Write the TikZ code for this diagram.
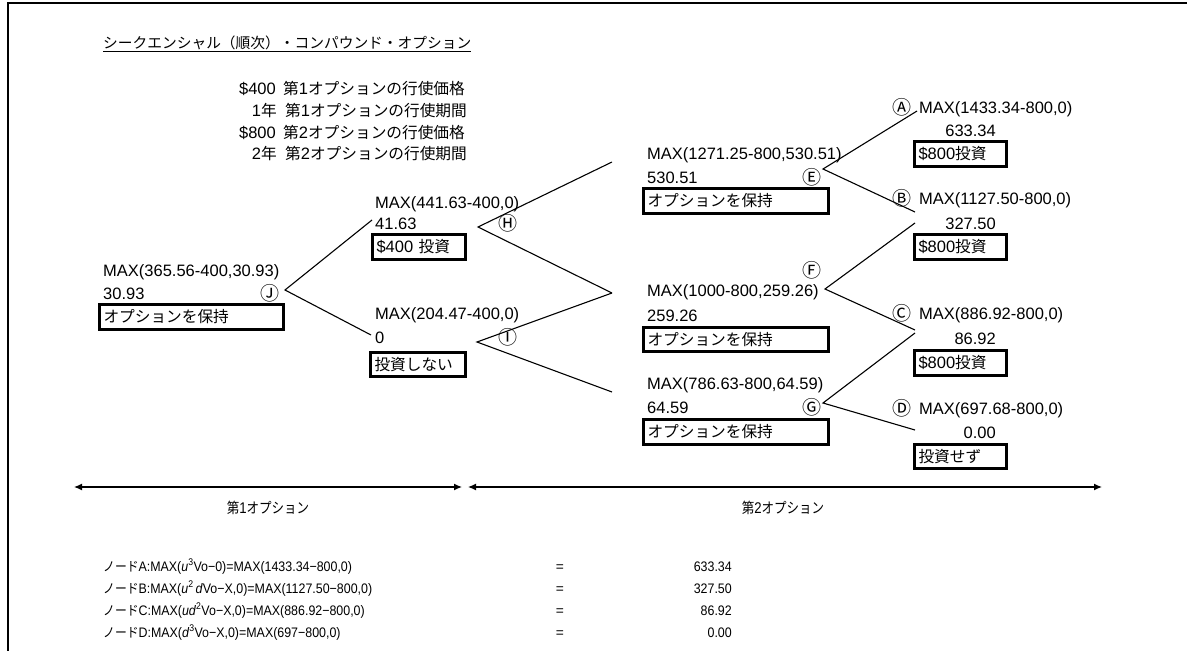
\documentclass[tikz,border=0pt]{standalone}
\usepackage{fontspec}
\usepackage{graphicx}
\setmainfont{Liberation Sans}
\newfontfamily\jp[Scale=0.95]{Noto Sans CJK JP}
\newfontfamily\cf{Noto Sans CJK JP}
\usetikzlibrary{arrows.meta}
\newcommand\fM{\fontsize{16.5}{20}\selectfont}
\newcommand\fS{\fontsize{13.8}{16}\selectfont}
\newcommand\fT{\fontsize{15.5}{18}\selectfont}
\newcommand\nx[1]{\scalebox{0.9}[1]{#1}}
\begin{document}
\begin{tikzpicture}[x=1pt,y=-1pt,
  t/.style={anchor=base west, inner sep=0pt, font=\fM},
  tr/.style={anchor=base east, inner sep=0pt, font=\fM},
  fs/.style={anchor=base west, inner sep=0pt, font=\fS},
  fsr/.style={anchor=base east, inner sep=0pt, font=\fS},
  cl/.style={inner sep=0pt, font=\cf\fontsize{19}{19}\selectfont},
  bx/.style={draw, line width=3pt, anchor=north west, inner xsep=4pt, inner ysep=0pt, align=left, font=\fM},
  br/.style={line width=1.1pt},
  arr/.style={{Latex[length=8pt,width=7pt]}-{Latex[length=8pt,width=7pt]}, line width=1.3pt}]
\useasboundingbox (0,0) rectangle (1187,651);
% frame
\draw[line width=2pt] (1187,3) -- (8,3) -- (8,651);
% title
\node[anchor=base west, inner sep=0pt, font=\fT] (title) at (103,48) {\underline{\jp シークエンシャル（順次）・コンパウンド・オプション}};
% parameters
\node[tr] (p1a) at (276,94) {\$400};
\node[t] (p1b) at (283,94) {{\jp 第}1{\jp オプションの行使価格}};
\node[tr] (p2a) at (277,116) {1{\jp 年}};
\node[t] (p2b) at (285,116) {{\jp 第}1{\jp オプションの行使期間}};
\node[tr] (p3a) at (276,138) {\$800};
\node[t] (p3b) at (283,138) {{\jp 第}2{\jp オプションの行使価格}};
\node[tr] (p4a) at (277,159) {2{\jp 年}};
\node[t] (p4b) at (285,159) {{\jp 第}2{\jp オプションの行使期間}};
% node J
\node[t] (Jm) at (103,276) {MAX(365.56-400,30.93)};
\node[t] (Jv) at (103,299) {30.93};
\node[cl] (Jc) at (270,293) {Ⓙ};
\node[bx, text width=176pt, minimum height=25pt] (Jb) at (98,303) {\jp オプションを保持};
% node H
\node[t] (Hm) at (375,208) {MAX(441.63-400,0)};
\node[t] (Hv) at (375,229) {41.63};
\node[cl] (Hc) at (508,223) {Ⓗ};
\node[bx, text width=85pt, minimum height=25pt] (Hb) at (371,233) {\$400 {\jp 投資}};
% node I
\node[t] (Im) at (375,319) {MAX(204.47-400,0)};
\node[t] (Iv) at (375,343) {0};
\node[cl] (Ic) at (508,337) {Ⓘ};
\node[bx, text width=87pt, minimum height=24pt] (Ib) at (369,351) {\jp 投資しない};
% node E
\node[t] (Em) at (647,159) {MAX(1271.25-800,530.51)};
\node[t] (Ev) at (647,183) {530.51};
\node[cl] (Ec) at (812,177) {Ⓔ};
\node[bx, text width=177pt, minimum height=25pt] (Eb) at (642,187) {\jp オプションを保持};
% node F
\node[cl] (Fc) at (812,270) {Ⓕ};
\begin{scope}
\clip (640,270) rectangle (824,300);
\node[t] (Fm) at (647,296) {MAX(1000-800,259.26)};
\end{scope}
\node[t] (Fv) at (647,321) {259.26};
\node[bx, text width=177pt, minimum height=24pt] (Fb) at (642,326) {\jp オプションを保持};
% node G
\begin{scope}
\clip (640,365) rectangle (823,395);
\node[t] (Gm) at (647,389) {MAX(786.63-800,64.59)};
\end{scope}
\node[t] (Gv) at (647,413) {64.59};
\node[cl] (Gc) at (812,407) {Ⓖ};
\node[bx, text width=177pt, minimum height=25pt] (Gb) at (642,418) {\jp オプションを保持};
% node A
\node[cl] (Ac) at (902,107) {Ⓐ};
\node[t] (Am) at (919,113) {MAX(1433.34-800,0)};
\node[tr] (Av) at (996,136) {633.34};
\node[bx, text width=84pt, minimum height=25pt] (Ab) at (913,140) {\$800{\jp 投資}};
% node B
\node[cl] (Bc) at (902,198) {Ⓑ};
\node[t] (Bm) at (919,204) {MAX(1127.50-800,0)};
\node[tr] (Bv) at (996,229) {327.50};
\node[bx, text width=84pt, minimum height=25pt] (Bb) at (913,233) {\$800{\jp 投資}};
% node C
\node[cl] (Cc) at (902,313) {Ⓒ};
\node[t] (Cm) at (919,319) {MAX(886.92-800,0)};
\node[tr] (Cv) at (996,344) {86.92};
\node[bx, text width=84pt, minimum height=25pt] (Cb) at (913,349) {\$800{\jp 投資}};
% node D
\node[cl] (Dc) at (902,408) {Ⓓ};
\node[t] (Dm) at (919,414) {MAX(697.68-800,0)};
\node[tr] (Dv) at (996,438) {0.00};
\node[bx, text width=84pt, minimum height=24pt] (Db) at (913,443) {\jp 投資せず};
% branch coordinates
\coordinate (Jp) at (285,290);
\coordinate (Hin) at (372,220);
\coordinate (Iin) at (371,335);
\coordinate (Hp) at (478,227);
\coordinate (Ip) at (477,342);
\coordinate (Ein) at (612,162);
\coordinate (Fin) at (612,293);
\coordinate (Gin) at (612,392);
\coordinate (Ep) at (823,169);
\coordinate (Fp) at (825,289);
\coordinate (Gp) at (823,403);
\coordinate (Ain) at (917,111);
\coordinate (Bin) at (915,212);
\coordinate (Bin2) at (915,223);
\coordinate (Cin) at (915,330);
\coordinate (Cin2) at (915,333);
\coordinate (Din) at (915,430);
\draw[br] (Hin) -- (Jp) -- (Iin);
\draw[br] (Ein) -- (Hp) -- (Fin);
\draw[br] (Fin) -- (Ip) -- (Gin);
\draw[br] (Ain) -- (Ep) -- (Bin);
\draw[br] (Bin2) -- (Fp) -- (Cin);
\draw[br] (Cin2) -- (Gp) -- (Din);
% period arrows
\coordinate (a1) at (74,487);
\coordinate (a2) at (462,487);
\coordinate (a3) at (468,487);
\coordinate (a4) at (1102,487);
\draw[arr] (a1) -- (a2);
\draw[arr] (a3) -- (a4);
\node[inner sep=0pt, anchor=base, font=\fontsize{15.5}{15}\selectfont] (L1) at (268,513) {\scalebox{0.85}[1]{{\jp 第}1{\jp オプション}}};
\node[inner sep=0pt, anchor=base, font=\fontsize{15.5}{15}\selectfont] (L2) at (783,513) {\scalebox{0.85}[1]{{\jp 第}2{\jp オプション}}};
% formulas
\node[fs] (f1) at (103,571) {\nx{{\jp ノード}A:MAX(\textit{u}\textsuperscript{3}Vo−0)=MAX(1433.34−800,0)}};
\node[fs] (f2) at (103,593) {\nx{{\jp ノード}B:MAX(\textit{u}\textsuperscript{2}\,\textit{d}Vo−X,0)=MAX(1127.50−800,0)}};
\node[fs] (f3) at (103,615) {\nx{{\jp ノード}C:MAX(\textit{ud}\textsuperscript{2}Vo−X,0)=MAX(886.92−800,0)}};
\node[fs] (f4) at (103,637) {\nx{{\jp ノード}D:MAX(\textit{d}\textsuperscript{3}Vo−X,0)=MAX(697−800,0)}};
\node[fs, anchor=base] (e1) at (560,571) {=};
\node[fs, anchor=base] (e2) at (560,593) {=};
\node[fs, anchor=base] (e3) at (560,615) {=};
\node[fs, anchor=base] (e4) at (560,637) {=};
\node[fsr] (v1) at (732,571) {\nx{633.34}};
\node[fsr] (v2) at (732,593) {\nx{327.50}};
\node[fsr] (v3) at (732,615) {\nx{86.92}};
\node[fsr] (v4) at (732,637) {\nx{0.00}};
\end{tikzpicture}
\end{document}
